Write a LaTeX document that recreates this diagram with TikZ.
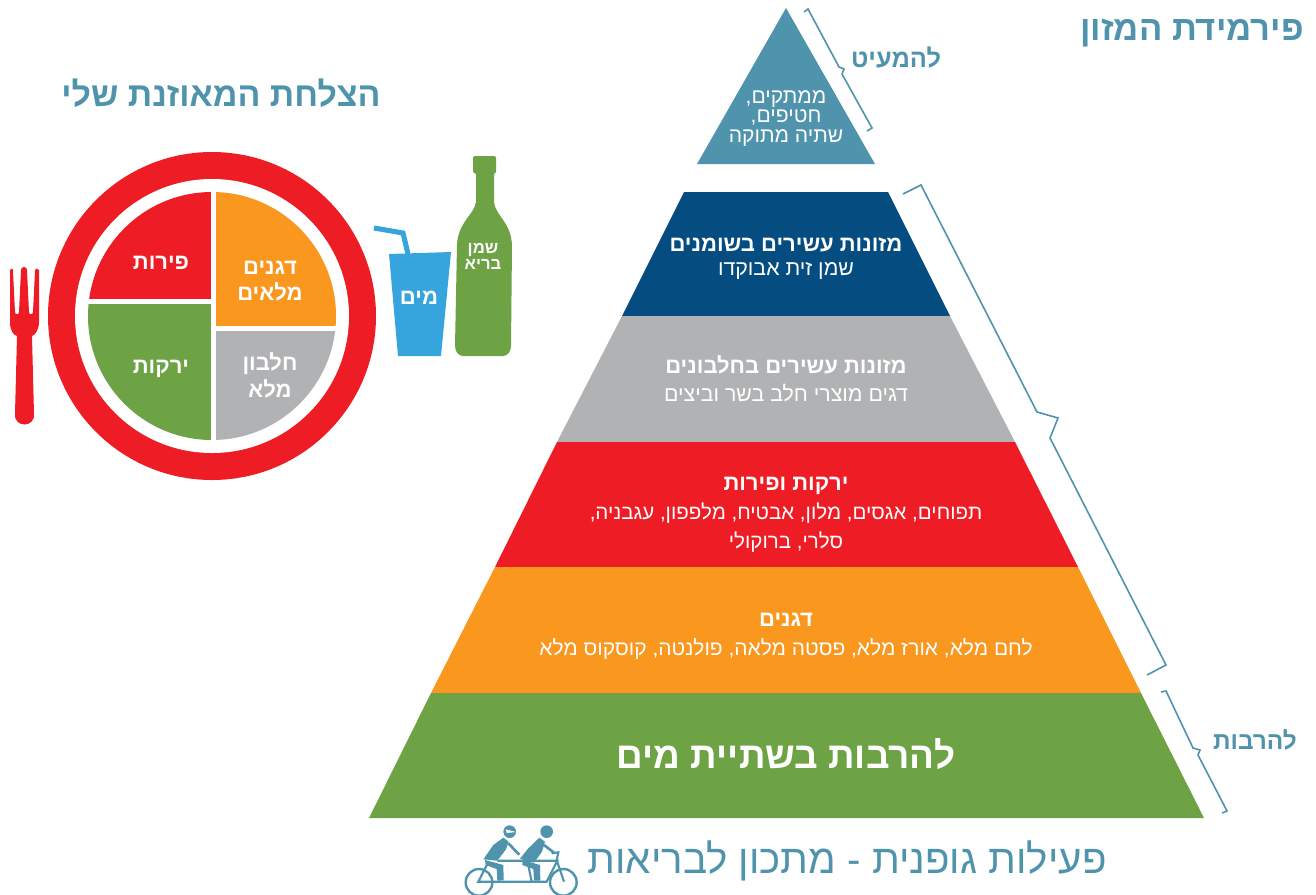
\documentclass[tikz,border=0pt]{standalone}
\usepackage{fontspec}
\setmainfont[Script=Hebrew]{Liberation Sans}
\TeXXeTstate=1
\newcommand{\heb}[1]{\beginR #1\endR}
\definecolor{teal}{HTML}{4F93AD}
\definecolor{navy}{HTML}{054C80}
\definecolor{midgray}{HTML}{B1B2B4}
\definecolor{pred}{HTML}{EE1C25}
\definecolor{porange}{HTML}{F9971E}
\definecolor{pgreen}{HTML}{6DA345}
\definecolor{sky}{HTML}{36A5DD}
\tikzset{
  lab/.style={inner sep=0pt,text height=0.85*#1pt,text depth=0.07*#1pt},
  wt/.style={lab=#1,text=white,font=\fontsize{#1}{#1}\selectfont},
  wb/.style={lab=#1,text=white,font=\fontsize{#1}{#1}\selectfont\bfseries},
  tb/.style={lab=#1,text=teal,font=\fontsize{#1}{#1}\selectfont\bfseries},
  tr/.style={lab=#1,text=teal,font=\fontsize{#1}{#1}\selectfont},
  brace/.style={draw=teal,line width=1.2pt,line join=miter},
  wheelline/.style={draw=teal,line width=1.8pt},
  frameline/.style={draw=teal,line width=1.6pt},
  armline/.style={draw=teal,line width=2pt},
}
\begin{document}
\begin{tikzpicture}[x=0.75pt,y=-0.75pt]
\useasboundingbox (0,0) rectangle (1316,894);
% pyramid
\fill[teal] (786,8) -- (875,164) -- (697,164) -- cycle;
\fill[navy] (684,192) -- (888,192) -- (950,316) -- (622,316) -- cycle;
\fill[midgray] (622,316) -- (950,316) -- (1015,442) -- (557,442) -- cycle;
\fill[pred] (557,442) -- (1015,442) -- (1078,567) -- (495,567) -- cycle;
\fill[porange] (495,567) -- (1078,567) -- (1141,693) -- (431,693) -- cycle;
\fill[pgreen] (431,693) -- (1141,693) -- (1204,818) -- (369,818) -- cycle;
% braces
\draw[brace] (804,12) -- (808,9) -- (839,67) -- (844,69) -- (842,74) -- (872,128) -- (867,131);
\draw[brace] (903,194) -- (921,185) -- (1037,412) -- (1058,418) -- (1050,438) -- (1166,665) -- (1147,675);
\draw[brace] (1161,692) -- (1166,691) -- (1193,748) -- (1200,750) -- (1198,755) -- (1227,811) -- (1222,813);
% pyramid text
\node[wt=15.8] (s1) at (786,95) {\heb{ממתקים,}};
\node[wt=15.8] (s2) at (786,114) {\heb{חטיפים,}};
\node[wt=15.8] (s3) at (786,134) {\heb{שתיה מתוקה}};
\node[wb=16.5] (f1) at (786,243) {\heb{מזונות עשירים בשומנים}};
\node[wt=16] (f2) at (786,267) {\heb{שמן זית אבוקדו}};
\node[wb=16.5] (g1) at (786,365) {\heb{מזונות עשירים בחלבונים}};
\node[wt=16] (g2) at (786,393) {\heb{דגים מוצרי חלב בשר וביצים}};
\node[wb=16.5] (r1) at (786,482) {\heb{ירקות ופירות}};
\node[wt=15.4] (r2) at (786,511) {\heb{תפוחים, אגסים, מלון, אבטיח, מלפפון, עגבניה,}};
\node[wt=15.4] (r3) at (786,540) {\heb{סלרי, ברוקולי}};
\node[wb=16.5] (o1) at (786,618) {\heb{דגנים}};
\node[wt=15.7] (o2) at (786,647) {\heb{לחם מלא, אורז מלא, פסטה מלאה, פולנטה, קוסקוס מלא}};
\node[wb=27.7] (w1) at (786,754) {\heb{להרבות בשתיית מים}};
% headings
\node[tb=26] (title) at (1192,27) {\heb{פירמידת המזון}};
\node[tb=25.5] (plate) at (221,93) {\heb{הצלחת המאוזנת שלי}};
\node[tb=19] (less) at (896,58) {\heb{להמעיט}};
\node[tb=18.3] (more) at (1255,740) {\heb{להרבות}};
\node[tr=30.2] (act) at (847,858) {\heb{פעילות גופנית - מתכון לבריאות}};
% plate
\fill[pred] (212,316) circle[radius=164];
\fill[white] (212,316) circle[radius=137];
\begin{scope}
\clip (212,316) circle[radius=124];
\fill[pred] (80,180) rectangle (211,299);
\fill[porange] (216,180) rectangle (345,326);
\fill[pgreen] (80,304) rectangle (211,450);
\fill[midgray] (216,331) rectangle (345,450);
\end{scope}
\node[wb=16.5] (p1) at (161,261) {\heb{פירות}};
\node[wb=16.5] (p2) at (270,266) {\heb{דגנים}};
\node[wb=16.5] (p3) at (270,292) {\heb{מלאים}};
\node[wb=16.5] (p4) at (161,365) {\heb{ירקות}};
\node[wb=16.5] (p5) at (270,362) {\heb{חלבון}};
\node[wb=16.5] (p6) at (270,389) {\heb{מלא}};
% fork
\fill[pred] (10,270) .. controls (11,268) and (13,268) .. (13,271) -- (15,312) .. controls (15,315) and (19,315) .. (19,312)
 -- (21,270) .. controls (21,266) and (27,266) .. (27,270) -- (29,312) .. controls (29,315) and (33,315) .. (33,312)
 -- (35,271) .. controls (35,268) and (38,268) .. (39,270) -- (39,322) .. controls (39,330) and (35,335) .. (32,336)
 -- (34,414) .. controls (35,428) and (14,428) .. (15,414) -- (17,336) .. controls (13,335) and (10,330) .. (10,322) -- cycle;
% cup
\draw[sky,line width=3.8pt] (374,228) -- (403,233) -- (408,254);
\fill[sky] (389,254) -- (451,252) -- (441,356) -- (398,356) -- cycle;
\node[wb=16.5] (c1) at (419,296) {\heb{מים}};
% bottle
\fill[pgreen] (473,158) .. controls (473,157) and (474,156) .. (475,156) -- (494,156) .. controls (495,156) and (496,157) .. (496,158)
 -- (496,172) -- (494,174) -- (494,202) .. controls (495,215) and (511,222) .. (512,245)
 -- (511,346) .. controls (511,352) and (507,356) .. (503,356) -- (463,356) .. controls (459,356) and (455,352) .. (455,346)
 -- (457,245) .. controls (458,222) and (474,215) .. (476,202) -- (476,174) -- (473,172) -- cycle;
\node[wb=12.5] (b1) at (483,247) {\heb{שמן}};
\node[wb=12.5] (b2) at (483,263) {\heb{בריא}};
% cyclists, in units of one third of a pixel from (440,810)
\begin{scope}
\clip (440,810) rectangle (640,894);
\begin{scope}[shift={(440,810)},x=0.25pt,y=-0.25pt]
\draw[wheelline] (117,217) circle[radius=40];
\draw[wheelline] (370,217) circle[radius=40];
\draw[frameline] (142,162) -- (115,215) -- (320,215) -- (352,152) -- (172,152);
\draw[frameline] (262,152) -- (275,215);
\draw[frameline] (335,130) -- (355,127) -- (350,150) -- (372,215);
\draw[armline] (205,100) -- (238,134);
\draw[armline] (312,105) -- (342,128);
\fill[teal] (209,65) circle[radius=19];
\fill[white] (197,58) -- (228,66) -- (200,69) -- cycle;
\fill[teal] (320,65) circle[radius=19];
\fill[teal] (190,83) -- (206,95) -- (198,118) -- (172,152) -- (130,148) -- (160,105) -- cycle;
\fill[teal] (135,150) -- (190,165) -- (191,211) -- (172,212) -- (170,177) -- (137,165) -- cycle;
\fill[teal] (298,83) -- (315,95) -- (306,125) -- (282,158) -- (240,146) -- (265,115) -- cycle;
\fill[teal] (248,150) -- (300,165) -- (301,212) -- (282,212) -- (280,177) -- (247,165) -- cycle;
\end{scope}
\end{scope}
\end{tikzpicture}
\end{document}
